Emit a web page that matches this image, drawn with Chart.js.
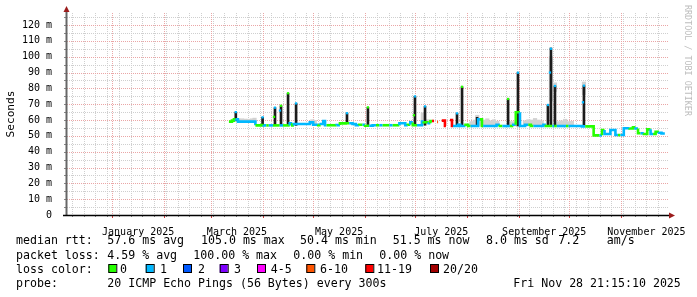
<!DOCTYPE html>
<html>
<head>
<meta charset="utf-8">
<script src="https://cdn.jsdelivr.net/npm/chart.js@4.4.1/dist/chart.umd.min.js"></script>
<style>
  html, body { margin: 0; padding: 0; background: #fff; }
  canvas { display: block; }
</style>
</head>
<body>
<canvas id="pingChart" width="697" height="297"></canvas>
<script>
// x values are days counted from 2025-01-01
const xStart = -27.0;
const xEnd = 331.9;
const monthStarts = [0, 31, 59, 90, 120, 151, 181, 212, 243, 273, 304];
const monthLabelDays = [15.5, 74.5, 135.5, 196.5, 258, 319];
const monthLabels = ['January 2025', 'March 2025', 'May 2025', 'July 2025', 'September 2025', 'November 2025'];
const firstSunday = -24;
const yTicks = [0, 10, 20, 30, 40, 50, 60, 70, 80, 90, 100, 110, 120];

const lossColors = ['#26ff00', '#00b8ff', '#0059ff', '#7e00ff', '#ff00ff', '#ff5500', '#ff0000', '#a10000'];
const lossLabels = ['0', '1', '2', '3', '4-5', '6-10', '11-19', '20/20'];

// median rtt (ms) and loss class per point, null = no data
const medDay = [69.7, 71.5, 72.7, 73.8, 75.1, 76.3, 78.5, 81.0, 83.5, 85.5, 86.3, 87.5, 89.0, 90.5, 92.0, 93.5, 95.0,
  96.0, 98.5, 100.0, 102.0, 103.5, 106.0, 107.5, 108.5, 111.0, 113.0, 115.5, 118.0, 120.0, 121.5, 123.0, 124.5, 126.0,
  127.1, 128.0, 130.0, 132.0, 134.0, 136.0, 138.0, 139.5, 141.5, 143.5, 145.5, 147.5, 149.5, 151.0, 153.5, 155.5,
  157.5, 159.5, 161.5, 163.5, 165.5, 167.5, 169.5, 171.5, 173.5, 175.0, 176.5, 178.0, 179.5, 182.0, 183.5, 185.0,
  186.0, 187.5, 189.0, 190.0, 191.0, 192.2, 193.0, 194.0, 194.6, 195.5, 196.8, 198.7, 199.3, 200.0, 201.7, 202.9,
  203.5, 205.0, 206.5, 207.8, 209.5, 211.0, 212.5, 214.0, 216.0, 218.5, 219.6, 220.8, 221.5, 223.5, 225.5, 227.5,
  229.5, 231.5, 233.0, 235.0, 237.5, 239.5, 241.0, 243.5, 244.5, 246.5, 248.5, 250.0, 251.5, 253.5, 255.5, 257.5,
  259.0, 261.0, 262.8, 264.0, 265.5, 267.5, 269.5, 271.0, 272.5, 274.5, 276.5, 278.5, 280.5, 282.5, 284.0, 285.5,
  287.5, 288.0, 289.5, 291.0, 292.5, 294.0, 295.5, 297.5, 299.0, 300.5, 302.0, 303.5, 305.5, 307.5, 309.0, 311.0,
  312.5, 314.0, 315.5, 317.5, 319.5, 321.5, 323.0, 324.5, 326.5, 328.0, 330.0];
const medMs = [59.0, 59.0, 59.6, 60.5, 60.4, 59.0, 59.0, 59.0, 59.0, 59.0, 57.5, 56.6, 56.6, 56.8, 56.6, 56.6, 56.6,
  56.6, 56.6, 56.6, 56.6, 56.6, 56.6, 58.0, 56.6, 57.5, 57.5, 57.5, 57.5, 58.5, 57.0, 57.0, 56.8, 57.5,
  59.4, 56.7, 56.7, 56.7, 56.7, 56.8, 57.9, 57.9, 58.0, 58.0, 57.5, 56.7, 57.0, 57.0, 56.4, 56.4,
  56.7, 56.7, 56.7, 56.7, 56.7, 56.7, 56.7, 56.7, 58.0, 58.0, 56.7, 57.0, 58.5, 56.7, 56.7, 56.7,
  59.0, 58.6, 58.6, 58.0, 59.4, 59.4, null, 58.7, 58.7, null, 59.6, 59.6, 56.2, null, 60.0, 60.0,
  56.2, 56.2, 56.2, 57.0, 56.2, 56.2, 57.0, 56.2, 56.2, 56.2, 60.4, 60.4, 56.2, 56.2, 56.2, 56.2,
  56.2, 57.0, 56.2, 56.2, 56.2, 56.2, 57.0, 64.9, 56.2, 56.2, 57.0, 57.0, 56.2, 56.2, 56.2, 56.2,
  57.0, 56.2, 56.2, 56.2, 56.2, 56.2, 56.2, 56.2, 56.2, 56.2, 56.2, 56.2, 56.2, 56.0, 56.0, 56.0,
  56.0, 50.3, 50.3, 50.3, 50.3, 53.7, 51.2, 51.2, 53.7, 53.7, 50.5, 50.5, 50.5, 54.8, 54.8, 54.6,
  55.4, 54.6, 51.6, 51.6, 51.2, 54.1, 51.2, 51.2, 52.6, 52.0, 51.5];
const medLoss = [0, 0, 0, 1, 1, 1, 1, 1, 1, 1, 0, 0, 0, 1, 0, 1, 1,
  0, 0, 1, 0, 0, 1, 0, 1, 1, 1, 1, 1, 1, 1, 0, 1, 1,
  1, 0, 0, 0, 1, 0, 0, 0, 1, 1, 1, 0, 1, 0, 1, 1,
  0, 1, 0, 0, 1, 0, 0, 1, 1, 1, 0, 1, 0, 1, 1, 1,
  0, 0, 1, 0, 6, 6, 6, 5, 5, 6, 6, 6, 6, 6, 6, 6,
  1, 1, 1, 1, 1, 0, 0, 1, 1, 1, 0, 0, 1, 1, 1, 1,
  1, 0, 1, 1, 0, 1, 0, 1, 1, 1, 0, 0, 1, 1, 1, 1,
  0, 0, 1, 0, 1, 1, 1, 0, 1, 1, 1, 1, 1, 0, 0, 0,
  0, 0, 0, 1, 0, 1, 1, 1, 1, 1, 0, 1, 1, 1, 0, 0,
  1, 0, 1, 0, 0, 1, 0, 0, 1, 1, 0];

// dark spikes (single intervals with high rtt)
const spikeDay = [73.8, 89.8, 97.2, 100.8, 105.0, 109.8, 140.2, 152.7, 180.8, 186.8, 205.9, 208.9, 217.9, 236.4, 242.3, 260.2, 262.0, 264.4, 281.7];
const spikeLow = [59.5, 56.6, 56.6, 56.6, 56.6, 56.6, 57.9, 57.0, 57.0, 56.7, 56.2, 56.2, 56.2, 56.2, 56.2, 56.2, 56.2, 56.2, 56.2];
const spikeHigh = [65.0, 61.7, 67.8, 69.0, 76.9, 70.5, 64.3, 68.0, 74.9, 68.6, 64.2, 81.0, 61.7, 73.3, 89.9, 69.5, 105.5, 81.5, 81.7];

// coloured median marks sitting on the spikes
const tipDay = [73.8, 89.8, 97.2, 100.8, 105.0, 109.8, 140.2, 152.7, 180.8, 186.8, 205.9, 208.9, 236.4, 242.3, 260.2, 262.0, 264.4, 281.7, 96.6, 100.2, 180.2, 261.4, 281.1];
const tipMs = [65.0, 61.7, 67.8, 69.0, 76.9, 70.5, 64.3, 68.0, 74.9, 68.6, 64.2, 81.0, 73.3, 89.9, 69.5, 105.0, 81.5, 81.7, 62.0, 66.0, 63.0, 90.0, 71.2];
const tipLoss = [1, 1, 1, 0, 0, 1, 1, 0, 1, 1, 1, 0, 0, 1, 1, 1, 1, 1, 0, 1, 0, 1, 1];

// smoke (spread of the pings)
const smokeDay = [75.5, 77.5, 79.5, 81.5, 83.5, 85.0, 119.5, 121.0, 185.5, 188.0, 214.5, 216.5, 218.0, 220.0, 222.0, 224.0, 226.0, 228.0, 230.0, 238.5, 240.5, 246.5, 248.5, 250.5, 252.5, 254.5, 256.5, 262.0, 264.4, 266.5, 268.5, 270.5, 272.5, 274.5, 281.7];
const smokeLow = [59.0, 59.0, 59.0, 59.0, 59.0, 59.0, 57.5, 57.5, 57.0, 58.0, 56.2, 56.2, 56.2, 56.2, 56.2, 56.2, 56.2, 56.2, 56.2, 56.2, 56.2, 56.2, 56.2, 56.2, 56.2, 56.2, 56.2, 72.0, 78.0, 56.2, 56.2, 56.2, 56.2, 56.2, 76.0];
const smokeHigh = [60.6, 60.8, 60.6, 60.5, 60.8, 61.2, 60.2, 59.8, 64.5, 60.2, 59.0, 60.0, 63.0, 60.5, 60.0, 60.8, 59.5, 60.2, 59.2, 59.0, 58.8, 59.5, 60.2, 60.0, 61.0, 60.0, 59.5, 100.0, 83.5, 59.0, 59.5, 60.5, 59.0, 59.2, 84.0];

const legendRows = [
  { y: 241, parts: [[16, 'median rtt:'], [107.3, '57.6 ms avg'], [201, '105.0 ms max'], [300, '50.4 ms min'], [392.7, '51.5 ms now'], [486, '8.0 ms sd'], [558.3, '7.2'], [606.7, 'am/s']] },
  { y: 255.7, parts: [[16, 'packet loss:'], [107.3, '4.59 % avg'], [193.3, '100.00 % max'], [293.3, '0.00 % min'], [379.3, '0.00 % now']] },
  { y: 269.5, parts: [[16, 'loss color:']] },
  { y: 283.5, parts: [[16, 'probe:'], [107.3, '20 ICMP Echo Pings (56 Bytes) every 300s'], [513.3, 'Fri Nov 28 21:15:10 2025']] }
];
const swatchX = [108.3, 145.7, 183, 219.7, 257, 306.3, 365.3, 430];
const swatchLabelX = [120, 160, 198, 234, 270.7, 320, 377, 443];

const mono = '"DejaVu Sans Mono", monospace';

const rrdPlugin = {
  id: 'rrdLook',
  beforeDatasetsDraw(chart) {
    const { ctx, chartArea: a, scales: { x, y } } = chart;
    ctx.save();
    ctx.lineWidth = 1;
    ctx.setLineDash([1, 1]);
    const hline = (v, col) => {
      const py = Math.round(y.getPixelForValue(v)) + 0.5;
      ctx.strokeStyle = col;
      ctx.beginPath(); ctx.moveTo(a.left, py); ctx.lineTo(a.right, py); ctx.stroke();
    };
    const vline = (d, col) => {
      const px = Math.round(x.getPixelForValue(d)) + 0.5;
      ctx.strokeStyle = col;
      ctx.beginPath(); ctx.moveTo(px, a.top); ctx.lineTo(px, a.bottom); ctx.stroke();
    };
    for (let v = 5; v < 128; v += 10) hline(v, '#cfcfcf');
    for (let d = firstSunday; d < xEnd; d += 7) vline(d, '#cfcfcf');
    yTicks.slice(1).forEach(v => hline(v, '#eaa6a6'));
    monthStarts.forEach(d => vline(d, '#eaa6a6'));
    ctx.restore();
  },
  afterDatasetsDraw(chart) {
    const { ctx, chartArea: a, scales: { x, y } } = chart;
    ctx.save();
    // tick marks
    ctx.lineWidth = 1;
    ctx.strokeStyle = '#888';
    for (let d = firstSunday; d < xEnd; d += 7) {
      const px = Math.round(x.getPixelForValue(d)) + 0.5;
      ctx.beginPath(); ctx.moveTo(px, a.bottom); ctx.lineTo(px, a.bottom + 2); ctx.stroke();
    }
    for (let v = 5; v < 128; v += 5) {
      const py = Math.round(y.getPixelForValue(v)) + 0.5;
      ctx.beginPath(); ctx.moveTo(a.left - 3, py); ctx.lineTo(a.left, py); ctx.stroke();
    }
    ctx.strokeStyle = '#d04040';
    monthStarts.forEach(d => {
      const px = Math.round(x.getPixelForValue(d)) + 0.5;
      ctx.beginPath(); ctx.moveTo(px, a.bottom); ctx.lineTo(px, a.bottom + 3); ctx.stroke();
    });
    // axes
    ctx.strokeStyle = '#666';
    ctx.lineWidth = 2;
    ctx.beginPath(); ctx.moveTo(a.left - 0.5, a.bottom); ctx.lineTo(a.left - 0.5, a.top - 4); ctx.stroke();
    ctx.strokeStyle = '#000';
    ctx.lineWidth = 1.5;
    ctx.beginPath(); ctx.moveTo(a.left - 4, a.bottom + 0.5); ctx.lineTo(a.right + 1, a.bottom + 0.5); ctx.stroke();
    // arrows
    ctx.fillStyle = '#9b1c1c';
    ctx.beginPath(); ctx.moveTo(a.left - 0.5, a.top - 7); ctx.lineTo(a.left - 3.5, a.top - 1); ctx.lineTo(a.left + 2.5, a.top - 1); ctx.closePath(); ctx.fill();
    ctx.beginPath(); ctx.moveTo(a.right + 7, a.bottom + 0.5); ctx.lineTo(a.right + 1, a.bottom - 2.5); ctx.lineTo(a.right + 1, a.bottom + 3.5); ctx.closePath(); ctx.fill();
    ctx.restore();
  },
  afterDraw(chart) {
    const { ctx } = chart;
    ctx.save();
    ctx.font = '11.6px ' + mono;
    ctx.fillStyle = '#000';
    ctx.textBaseline = 'middle';
    legendRows.forEach(row => row.parts.forEach(([px, t]) => ctx.fillText(t, px, row.y)));
    swatchX.forEach((sx, i) => {
      ctx.fillStyle = lossColors[i];
      ctx.fillRect(sx, 264.5, 8, 8);
      ctx.strokeStyle = '#000';
      ctx.lineWidth = 1;
      ctx.strokeRect(sx + 0.5, 264.5, 8, 8);
      ctx.fillStyle = '#000';
      ctx.fillText(lossLabels[i], swatchLabelX[i], 269.5);
    });
    // watermark
    ctx.translate(687.5, 5);
    ctx.rotate(Math.PI / 2);
    ctx.font = '8.4px ' + mono;
    ctx.fillStyle = '#bdbdbd';
    ctx.fillText('RRDTOOL / TOBI OETIKER', 0, 0);
    ctx.restore();
  }
};

const medData = medDay.map((d, i) => ({ x: d, y: medMs[i] }));
const spikeData = spikeDay.map((d, i) => ({ x: d, y: [spikeLow[i], spikeHigh[i]] }));
const smokeData = smokeDay.map((d, i) => ({ x: d, y: [smokeLow[i], smokeHigh[i]] }));
const tipData = tipDay.map((d, i) => ({ x: d, y: tipMs[i] }));

new Chart(document.getElementById('pingChart').getContext('2d'), {
  type: 'line',
  data: {
    datasets: [
      {
        type: 'bar', label: 'smoke', data: smokeData, order: 4,
        backgroundColor: '#d2d2d2', barThickness: 3.5, grouped: false
      },
      {
        type: 'bar', label: 'spikes', data: spikeData, order: 3,
        backgroundColor: '#1c1c1c', barThickness: 2, grouped: false
      },
      {
        type: 'line', label: 'median rtt', data: medData, order: 2,
        borderWidth: 2.6, pointRadius: 0, stepped: 'after', spanGaps: false,
        borderColor: lossColors[1],
        segment: { borderColor: c => lossColors[medLoss[c.p0DataIndex]] }
      },
      {
        type: 'scatter', label: 'tips', data: tipData, order: 1,
        pointStyle: 'rect', pointRadius: 1.6, borderWidth: 0,
        backgroundColor: tipLoss.map(l => lossColors[l])
      }
    ]
  },
  options: {
    responsive: false,
    animation: false,
    layout: { padding: { top: 13, right: 29, left: 0, bottom: 0 } },
    plugins: { legend: { display: false }, tooltip: { enabled: false } },
    scales: {
      x: {
        type: 'linear', min: xStart, max: xEnd, offset: false,
        grid: { display: false }, border: { display: false },
        afterBuildTicks: s => { s.ticks = monthLabelDays.map(v => ({ value: v })); },
        afterFit: s => { s.height = 82; },
        ticks: {
          autoSkip: false, maxRotation: 0, padding: 3, color: '#000',
          font: { family: mono, size: 10 },
          callback: (v, i) => monthLabels[i]
        }
      },
      y: {
        type: 'linear', min: 0, max: 127.6,
        grid: { display: false }, border: { display: false },
        afterBuildTicks: s => { s.ticks = yTicks.map(v => ({ value: v })); },
        afterFit: s => { s.width = 67; },
        title: { display: true, text: 'Seconds', color: '#000', font: { family: mono, size: 11.2 }, padding: 4 },
        ticks: {
          padding: 7, color: '#000',
          font: { family: mono, size: 10 },
          callback: v => (v === 0 ? '0' : v + ' m')
        }
      }
    }
  },
  plugins: [rrdPlugin]
});
</script>
</body>
</html>
